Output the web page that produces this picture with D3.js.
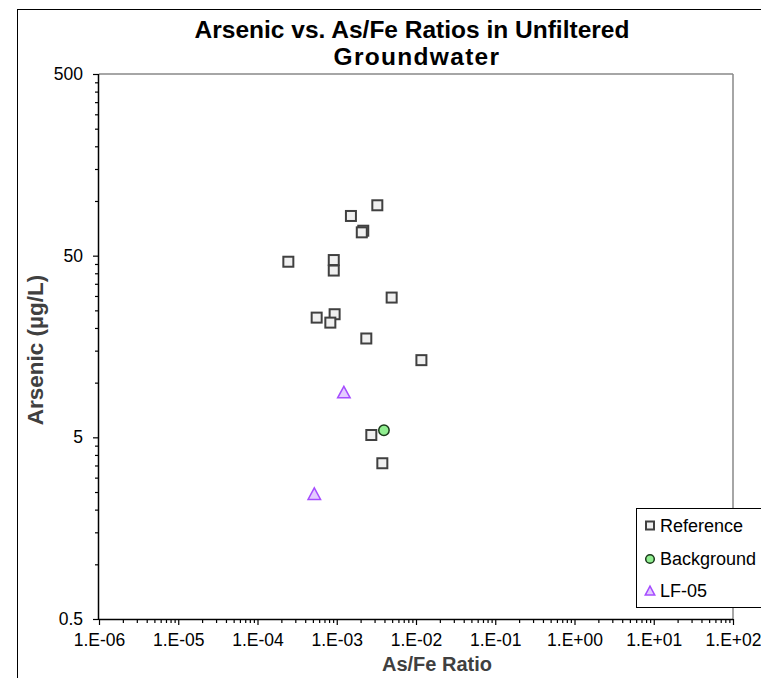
<!DOCTYPE html>
<html><head><meta charset="utf-8">
<script src="https://cdn.jsdelivr.net/npm/d3@7"></script>
<style>body{margin:0;background:#fff}svg{display:block}</style>
</head><body><svg id="c" width="761" height="678"></svg>
<script>
const refX = [3.25e-3, 1.51e-3, 2.16e-3, 2.07e-3, 2.45e-4, 9.17e-4, 9.17e-4, 4.93e-3, 5.58e-4, 9.4e-4, 8.3e-4, 2.36e-3, 1.17e-2, 2.73e-3, 3.76e-3];
const refY = [94.7, 82.7, 68.6, 67.2, 46.3, 47.3, 41.4, 29.4, 22.8, 23.8, 21.4, 17.5, 13.3, 5.15, 3.6];
const bgX = [3.94e-3];
const bgY = [5.47];
const lfX = [1.23e-3, 5.21e-4];
const lfY = [8.81, 2.43];
const xTicks = [1e-6,1e-5,1e-4,1e-3,1e-2,1e-1,1e0,1e1,1e2];
const xTickLabels = ["1.E-06","1.E-05","1.E-04","1.E-03","1.E-02","1.E-01","1.E+00","1.E+01","1.E+02"];
const yTicks = [0.5,5,50,500];
const yTickLabels = ["0.5","5","50","500"];
const seriesNames = ["Reference","Background","LF-05"];

const svg = d3.select("#c");
const font = "'Liberation Sans', Arial, sans-serif";
const L=99, R=733, T=74, B=619;
const x = d3.scaleLog().domain([1e-6,1e2]).range([L,R]);
const y = d3.scaleLog().domain([0.5,500]).range([B,T]);

// outer border
svg.append("rect").attr("x",17.5).attr("y",9.5).attr("width",800).attr("height",700)
  .attr("fill","none").attr("stroke","#000").attr("stroke-width",1);

// title
const title = svg.append("text").attr("font-family",font).attr("font-weight","bold")
  .attr("font-size",24.5).attr("text-anchor","middle").attr("fill","#000");
title.append("tspan").attr("x",412).attr("y",37.5).text("Arsenic vs. As/Fe Ratios in Unfiltered");
title.append("tspan").attr("x",417).attr("y",65).attr("letter-spacing","1.3").text("Groundwater");

// plot frame top/right gray
svg.append("line").attr("x1",L).attr("x2",R).attr("y1",T).attr("y2",T).attr("stroke","#888").attr("stroke-width",1.5);
svg.append("line").attr("x1",R).attr("x2",R).attr("y1",T).attr("y2",B).attr("stroke","#888").attr("stroke-width",1.5);

// minor ticks
const xMinor=[], yMinor=[];
for(let e=-6;e<2;e++) for(let k=2;k<=9;k++) xMinor.push(k*Math.pow(10,e));
for(let e=0;e<3;e++) for(let k=2;k<=9;k++) yMinor.push(0.5*k*Math.pow(10,e));

svg.append("g").attr("transform",`translate(0,${B})`).call(d3.axisBottom(x).tickValues(xMinor).tickSize(4).tickFormat(""))
  .call(g=>{g.select(".domain").remove(); g.selectAll("line").attr("stroke","#000").attr("stroke-width",1.2);});
const xAxis = d3.axisBottom(x).tickValues(xTicks).tickFormat((d,i)=>xTickLabels[i]).tickSize(6).tickPadding(9);
const gx = svg.append("g").attr("transform",`translate(0,${B})`).call(xAxis);
gx.attr("font-size",null).attr("font-family",null);
gx.selectAll("text").style("font-family",font).style("font-size","17.5px").attr("fill","#000");
gx.select(".domain").attr("stroke","#000").attr("stroke-width",1.5).attr("d",`M${L},0.5H${R}`);
gx.selectAll(".tick line").attr("stroke","#000").attr("stroke-width",1.2);

svg.append("g").attr("transform",`translate(${L},0)`).call(d3.axisLeft(y).tickValues(yMinor).tickSize(4).tickFormat(""))
  .call(g=>{g.select(".domain").remove(); g.selectAll("line").attr("stroke","#000").attr("stroke-width",1.2);});
const yAxis = d3.axisLeft(y).tickValues(yTicks).tickFormat((d,i)=>yTickLabels[i]).tickSize(6).tickPadding(10);
const gy = svg.append("g").attr("transform",`translate(${L},0)`).call(yAxis);
gy.attr("font-size",null).attr("font-family",null);
gy.selectAll("text").style("font-family",font).style("font-size","17.5px").attr("fill","#000");
gy.select(".domain").attr("stroke","#000").attr("stroke-width",1.5).attr("d",`M-0.5,${T}V${B}`);
gy.selectAll(".tick line").attr("stroke","#000").attr("stroke-width",1.2);

// axis titles
svg.append("text").attr("x",437).attr("y",671).attr("text-anchor","middle").style("font-family",font)
  .attr("font-weight","bold").style("font-size","20px").attr("fill","#404040").text("As/Fe Ratio");
svg.append("text").attr("transform","translate(43,350) rotate(-90)").attr("text-anchor","middle").style("font-family",font)
  .attr("font-weight","bold").style("font-size","22.5px").attr("fill","#404040").text("Arsenic (µg/L)");

// markers
function square(g,cx,cy,s){g.append("rect").attr("x",cx-s/2).attr("y",cy-s/2).attr("width",s).attr("height",s)
  .attr("fill","#f0f0f0").attr("stroke","#404040").attr("stroke-width",2);}
function circle(g,cx,cy,r){g.append("circle").attr("cx",cx).attr("cy",cy).attr("r",r)
  .attr("fill","#90ee90").attr("stroke","#1a3a1a").attr("stroke-width",1.5);}
function tri(g,cx,cy,w,h){g.append("path").attr("d",`M${cx},${cy-h*0.55}L${cx+w/2},${cy+h*0.45}L${cx-w/2},${cy+h*0.45}Z`)
  .attr("fill","#e3ccff").attr("stroke","#a64dff").attr("stroke-width",1.5);}

const gp = svg.append("g");
refX.forEach((v,i)=>square(gp,x(v),y(refY[i]),10));
bgX.forEach((v,i)=>circle(gp,x(v),y(bgY[i]),5.2));
lfX.forEach((v,i)=>tri(gp,x(v),y(lfY[i]),12.5,11.5));

// legend
const lg = svg.append("g");
lg.append("rect").attr("x",636.5).attr("y",508.5).attr("width",200).attr("height",99)
  .attr("fill","#fff").attr("stroke","#000").attr("stroke-width",1);
const ly=[525.5,559,591];
square(lg,650,ly[0],8); circle(lg,650,ly[1],4.3); tri(lg,650,ly[2],9.5,9);
seriesNames.forEach((n,i)=>lg.append("text").attr("x",660).attr("y",ly[i]+6.3).style("font-family",font)
  .style("font-size","18px").attr("fill","#000").text(n));
</script></body></html>
